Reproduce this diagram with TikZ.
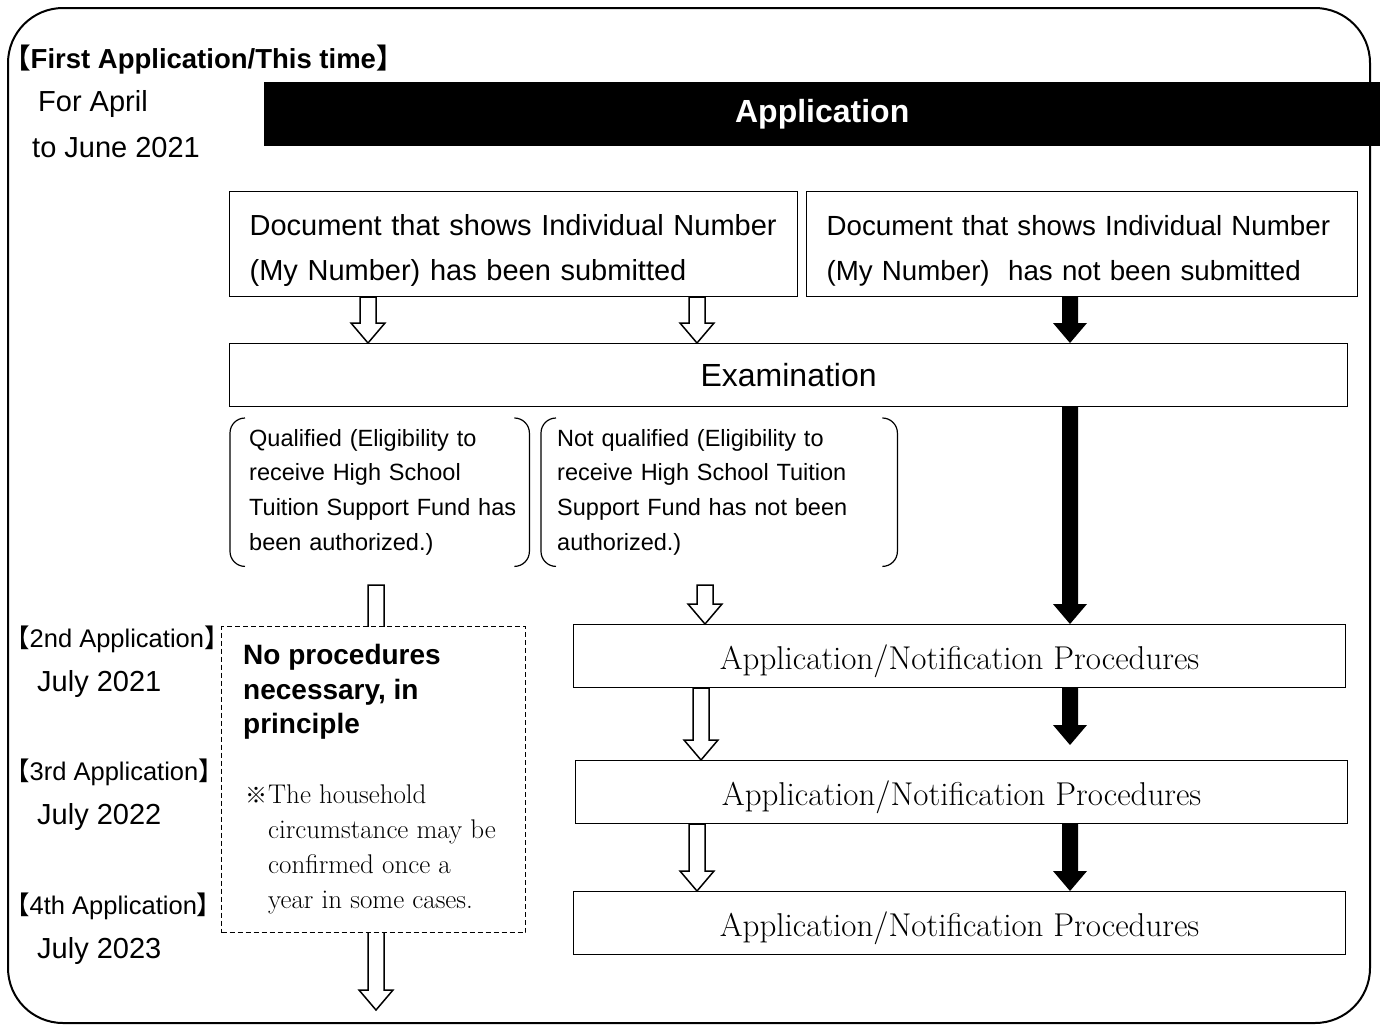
\documentclass[tikz,border=0pt]{standalone}
\usepackage{fontspec}
\newfontfamily\arial{Liberation Sans}
\newfontfamily\cjk{Noto Sans CJK JP}
\usetikzlibrary{positioning,calc}

\tikzset{
  box/.style={draw, line width=1.2pt, inner sep=0pt, anchor=north west},
  docbox/.style={box, minimum height=105pt, inner xsep=20pt, align=left,
    font=\arial\fontsize{29}{45}\selectfont},
  procbox/.style={box, minimum width=772pt, minimum height=63pt, text height=27pt, text depth=0pt,
    font=\fontsize{33}{38}\selectfont},
  result/.style={anchor=north west, inner sep=0pt, minimum height=148pt, align=left,
    font=\arial\fontsize{23.5}{34.7}\selectfont},
  bracket/.style={line width=1.2pt, rounded corners=15pt},
  hollowarrow/.style={draw, fill=white, line width=1.5pt, line join=miter},
  solidarrow/.style={fill=black},
  round/.style={anchor=west, inner sep=0pt, font=\arial\fontsize{25.5}{30}\selectfont},
  period/.style={anchor=west, inner sep=0pt, font=\arial\fontsize{29}{34}\selectfont},
}

% vertical block arrow from #2 down to #3
\newcommand{\flowarrow}[3][hollowarrow]{%
  \path[#1] ($(#2)+(-8,0)$) -- ($(#3)+(-8,-20)$) -- ($(#3)+(-17,-20)$) -- (#3)
    -- ($(#3)+(17,-20)$) -- ($(#3)+(8,-20)$) -- ($(#2)+(8,0)$) -- cycle;}

\begin{document}
\begin{tikzpicture}[x=1pt, y=-1pt]
  \useasboundingbox (0,0) rectangle (1381,1026);

  % frame
  \draw[line width=2pt, rounded corners=55pt] (8,8) rectangle (1370,1023);

  % first application
  \node[anchor=west, inner sep=0pt, font=\arial\bfseries\fontsize{27.5}{32}\selectfont]
    (title) at (3,60) {{\cjk【}First Application/This time{\cjk】}};
  \node[period] (april) at (38,104) {For April};
  \node[period] (june) at (32,148) {to June 2021};

  \node[anchor=north west, fill=black, inner sep=0pt, minimum width=1116pt, minimum height=64pt,
    text=white, font=\arial\bfseries\fontsize{32}{36}\selectfont] (appbar) at (264,82) {Application};

  \node[docbox, minimum width=568pt, text width=528pt] (doc1) at (229,191)
    {\rule{0pt}{33pt}Document that shows Individual Number\\(My Number) has been submitted};
  \node[docbox, minimum width=551pt, text width=511pt, font=\arial\fontsize{27.7}{45}\selectfont] (doc2) at (806,191)
    {\mbox{\rule{0pt}{33pt}Document that shows Individual Number}\\(My Number)\ \ has not been submitted};

  \node[box, minimum width=1118pt, minimum height=63pt, font=\arial\fontsize{32}{36}\selectfont]
    (exam) at (229,343) {Examination};

  \node[result, text width=280pt] (qual) at (249,418)
    {Qualified (Eligibility to\\receive High School\\Tuition Support Fund has\\been authorized.)};
  \node[result, text width=340pt] (notqual) at (557,418)
    {Not qualified (Eligibility to\\receive High School Tuition\\Support Fund has not been\\authorized.)};

  \foreach \n/\d in {qual/19, notqual/16}
    {
      \draw[bracket] ($(\n.north west)+(-\d+15,0)$) -- ($(\n.north west)+(-\d,0)$)
        -- ($(\n.south west)+(-\d,0)$) -- ($(\n.south west)+(-\d+15,0)$);
      \draw[bracket] ($(\n.north east)+(-15,0)$) -- (\n.north east)
        -- (\n.south east) -- ($(\n.south east)+(-15,0)$);
    }

  % later applications
  \foreach \i/\lab/\yr/\y in {2/2nd/2021/639, 3/3rd/2022/772, 4/4th/2023/906}
    {
      \node[round] (round\i) at (4,\y) {{\cjk【}\lab\ Application{\cjk】}};
      \node[period] (year\i) at (37,\y+45) {July \yr};
    }

  \foreach \i/\x/\y in {1/573/624, 2/575/760, 3/573/891}
    \node[procbox] (app\i) at (\x,\y) {Application/Notification Procedures};

  % arrows
  \coordinate (colA) at (368,0);
  \coordinate (colB) at (697,0);
  \coordinate (colC) at (701,0);
  \coordinate (colK) at (1070,0);
  \coordinate (qtop) at (376,585);
  \coordinate (qtip) at (376,1010);
  \coordinate (ntop) at (705,585);
  \coordinate (ktip) at ([yshift=15pt]app2.north -| colK);

  \flowarrow{doc1.south -| colA}{exam.north -| colA}
  \flowarrow{doc1.south -| colB}{exam.north -| colB}
  \flowarrow{qtop}{qtip}
  \flowarrow{ntop}{app1.north -| ntop}
  \flowarrow{app1.south -| colC}{app2.north -| colC}
  \flowarrow{app2.south -| colB}{app3.north -| colB}

  \flowarrow[solidarrow]{doc2.south -| colK}{exam.north -| colK}
  \flowarrow[solidarrow]{exam.south -| colK}{app1.north -| colK}
  \flowarrow[solidarrow]{app1.south -| colK}{ktip}
  \flowarrow[solidarrow]{app2.south -| colK}{app3.north -| colK}

  % no procedures
  \node[box, dashed, dash pattern=on 5pt off 3pt, line width=1pt, fill=white,
    minimum width=304pt, minimum height=306pt] (nobox) at (221,626) {};
  \node[anchor=north west, inner sep=0pt, align=left, font=\arial\bfseries\fontsize{28}{34.5}\selectfont]
    (nohead) at (243,644) {No procedures\\necessary, in\\principle};
  \node[anchor=north west, inner sep=0pt, align=left, font=\fontsize{27}{35}\selectfont]
    (note) at (268,785) {The household\\circumstance may be\\confirmed once a\\year in some cases.};
  \node[anchor=east, inner sep=0pt, font=\cjk\fontsize{22}{26}\selectfont]
    (mark) at ($(note.north west)+(0,10)$) {※};
\end{tikzpicture}
\end{document}
